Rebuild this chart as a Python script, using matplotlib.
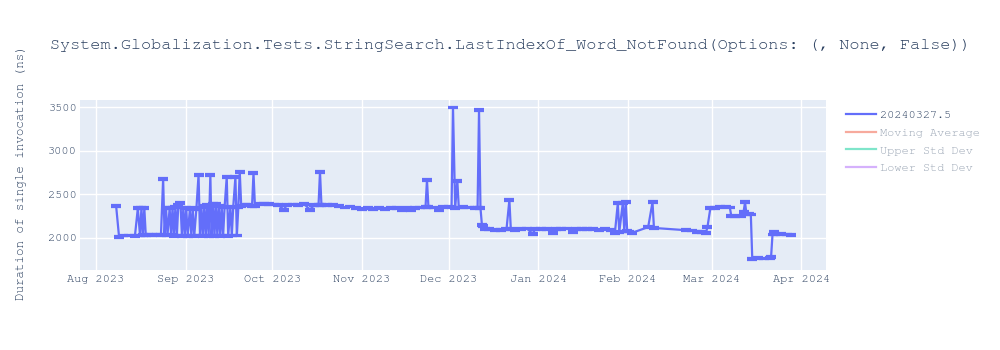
import matplotlib
matplotlib.use("Agg")
import matplotlib.pyplot as plt
import matplotlib.dates as mdates
from matplotlib.lines import Line2D
import pandas as pd

title = "System.Globalization.Tests.StringSearch.LastIndexOf_Word_NotFound(Options: (, None, False))"
y_label = "Duration of single invocation (ns)"
series_name = "20240327.5"
hidden_names = ["Moving Average", "Upper Std Dev", "Lower Std Dev"]
hidden_colors = ["#f7aa9d", "#7fe5ca", "#d5b1fc"]

dates = [
    "2023-08-08 00:00", "2023-08-09 00:00", "2023-08-10 12:00", "2023-08-12 12:00", "2023-08-14 12:00",
    "2023-08-15 12:00", "2023-08-16 06:00", "2023-08-16 18:00", "2023-08-17 06:00", "2023-08-17 18:00",
    "2023-08-18 06:00", "2023-08-19 00:00", "2023-08-20 12:00", "2023-08-22 00:00", "2023-08-23 12:00",
    "2023-08-24 06:00", "2023-08-24 18:00", "2023-08-25 06:00", "2023-08-25 18:00", "2023-08-26 12:00",
    "2023-08-27 00:00", "2023-08-27 12:00", "2023-08-28 00:00", "2023-08-28 12:00", "2023-08-29 00:00",
    "2023-08-29 12:00", "2023-08-30 06:00", "2023-08-30 18:00", "2023-08-31 06:00", "2023-08-31 18:00",
    "2023-09-01 06:00", "2023-09-01 18:00", "2023-09-02 12:00", "2023-09-03 00:00", "2023-09-03 12:00",
    "2023-09-04 00:00", "2023-09-04 18:00", "2023-09-05 12:00", "2023-09-06 00:00", "2023-09-06 12:00",
    "2023-09-07 00:00", "2023-09-07 12:00", "2023-09-08 00:00", "2023-09-08 12:00", "2023-09-09 00:00",
    "2023-09-09 14:00", "2023-09-10 00:00", "2023-09-10 12:00", "2023-09-11 00:00", "2023-09-11 12:00",
    "2023-09-12 00:00", "2023-09-12 12:00", "2023-09-13 00:00", "2023-09-13 12:00", "2023-09-14 00:00",
    "2023-09-14 12:00", "2023-09-15 06:00", "2023-09-15 18:00", "2023-09-16 12:00", "2023-09-17 00:00",
    "2023-09-17 12:00", "2023-09-18 06:00", "2023-09-18 18:00", "2023-09-19 06:00", "2023-09-19 18:00",
    "2023-09-20 06:00", "2023-09-21 12:00", "2023-09-22 12:00", "2023-09-24 00:00", "2023-09-24 12:00",
    "2023-09-25 00:00", "2023-09-26 12:00", "2023-09-28 00:00", "2023-09-30 00:00", "2023-10-01 12:00",
    "2023-10-03 00:00", "2023-10-05 00:00", "2023-10-06 00:00", "2023-10-08 00:00", "2023-10-10 00:00",
    "2023-10-12 00:00", "2023-10-14 00:00", "2023-10-15 12:00", "2023-10-17 00:00", "2023-10-17 12:00",
    "2023-10-18 00:00", "2023-10-20 00:00", "2023-10-22 00:00", "2023-10-24 00:00", "2023-10-26 00:00",
    "2023-10-28 00:00", "2023-10-30 00:00", "2023-11-01 00:00", "2023-11-03 00:00", "2023-11-05 00:00",
    "2023-11-07 00:00", "2023-11-09 00:00", "2023-11-11 00:00", "2023-11-13 00:00", "2023-11-15 00:00",
    "2023-11-16 12:00", "2023-11-18 00:00", "2023-11-19 12:00", "2023-11-21 00:00", "2023-11-23 00:00",
    "2023-11-23 12:00", "2023-11-24 00:00", "2023-11-26 00:00", "2023-11-27 12:00", "2023-11-29 00:00",
    "2023-12-01 00:00", "2023-12-02 00:00", "2023-12-02 12:00", "2023-12-03 06:00", "2023-12-04 00:00",
    "2023-12-04 12:00", "2023-12-06 00:00", "2023-12-08 00:00", "2023-12-10 00:00", "2023-12-11 00:00",
    "2023-12-11 12:00", "2023-12-12 00:00", "2023-12-12 12:00", "2023-12-13 00:00", "2023-12-13 12:00",
    "2023-12-15 00:00", "2023-12-17 00:00", "2023-12-19 00:00", "2023-12-21 00:00", "2023-12-22 00:00",
    "2023-12-22 12:00", "2023-12-24 00:00", "2023-12-26 00:00", "2023-12-28 00:00", "2023-12-30 00:00",
    "2023-12-31 00:00", "2024-01-02 00:00", "2024-01-04 00:00", "2024-01-06 00:00", "2024-01-07 00:00",
    "2024-01-09 00:00", "2024-01-11 00:00", "2024-01-13 00:00", "2024-01-14 00:00", "2024-01-16 00:00",
    "2024-01-18 00:00", "2024-01-20 00:00", "2024-01-22 00:00", "2024-01-24 00:00", "2024-01-26 00:00",
    "2024-01-27 12:00", "2024-01-28 12:00", "2024-01-29 00:00", "2024-01-30 06:00", "2024-01-30 18:00",
    "2024-01-31 06:00", "2024-01-31 18:00", "2024-02-01 12:00", "2024-02-02 12:00", "2024-02-08 00:00",
    "2024-02-09 12:00", "2024-02-10 00:00", "2024-02-21 00:00", "2024-02-23 00:00", "2024-02-25 00:00",
    "2024-02-26 12:00", "2024-02-28 00:00", "2024-02-28 12:00", "2024-02-29 12:00", "2024-03-02 00:00",
    "2024-03-04 00:00", "2024-03-06 00:00", "2024-03-07 06:00", "2024-03-07 18:00", "2024-03-09 00:00",
    "2024-03-11 00:00", "2024-03-12 00:00", "2024-03-12 12:00", "2024-03-13 00:00", "2024-03-14 00:00",
    "2024-03-14 12:00", "2024-03-15 00:00", "2024-03-17 00:00", "2024-03-19 00:00", "2024-03-21 00:00",
    "2024-03-21 12:00", "2024-03-22 00:00", "2024-03-22 12:00", "2024-03-23 00:00", "2024-03-25 00:00",
    "2024-03-27 00:00", "2024-03-28 12:00",
]

durations = [
    2365, 2015, 2030, 2030, 2025,
    2340, 2030, 2345, 2035, 2340,
    2030, 2040, 2035, 2040, 2035,
    2680, 2040, 2345, 2030, 2340,
    2040, 2350, 2025, 2360, 2030,
    2380, 2400, 2025, 2350, 2030,
    2340, 2025, 2330, 2030, 2340,
    2020, 2335, 2725, 2030, 2350,
    2025, 2370, 2030, 2380, 2025,
    2720, 2030, 2390, 2020, 2390,
    2030, 2370, 2025, 2360, 2030,
    2350, 2700, 2020, 2350, 2030,
    2360, 2700, 2030, 2350, 2760,
    2370, 2380, 2375, 2365, 2745,
    2370, 2395, 2390, 2390, 2385,
    2380, 2325, 2375, 2385, 2380,
    2390, 2325, 2375, 2380, 2760,
    2380, 2375, 2380, 2370, 2350,
    2360, 2340, 2335, 2345, 2330,
    2340, 2335, 2345, 2340, 2320,
    2350, 2320, 2345, 2350, 2355,
    2665, 2355, 2350, 2325, 2355,
    2360, 2350, 3495, 2345, 2655,
    2350, 2355, 2350, 2345, 2350,
    3465, 2345, 2150, 2140, 2105,
    2100, 2095, 2095, 2100, 2435,
    2100, 2095, 2100, 2110, 2050,
    2100, 2105, 2100, 2060, 2105,
    2100, 2110, 2065, 2105, 2100,
    2105, 2100, 2095, 2100, 2095,
    2060, 2400, 2070, 2405, 2075,
    2410, 2080, 2075, 2060, 2125,
    2410, 2115, 2090, 2085, 2070,
    2065, 2060, 2125, 2340, 2345,
    2355, 2360, 2350, 2250, 2245,
    2250, 2300, 2410, 2270, 2280,
    2270, 1760, 1770, 1765, 1775,
    1780, 2040, 2075, 2045, 2045,
    2040, 2035,
]

spread_ns = 10

x = pd.to_datetime(dates)

plt.rcParams['font.family'] = ['FreeMono', 'DejaVu Sans Mono']
text_color = "#2a3f5f"
line_color = "#636efa"

fig = plt.figure(figsize=(10, 3.5), dpi=100)
ax = fig.add_axes([0.08, 0.229, 0.746, 0.485])
ax.set_facecolor("#e5ecf6")

ax.errorbar(x, durations, yerr=spread_ns, color=line_color, linewidth=1.6,
            elinewidth=1.6, capsize=3.5, capthick=1.6, zorder=3)

ax.set_ylim(1635, 3580)
ax.set_xlim(pd.Timestamp("2023-07-26 12:00"), pd.Timestamp("2024-04-09 12:00"))
ax.set_yticks([2000, 2500, 3000, 3500])
ax.xaxis.set_major_locator(mdates.MonthLocator())
ax.xaxis.set_major_formatter(mdates.DateFormatter("%b %Y"))
ax.grid(True, color="white", linewidth=1)
ax.set_axisbelow(True)
for s in ax.spines.values():
    s.set_visible(False)
ax.tick_params(length=0, labelsize=8.6, colors=text_color)
ax.tick_params(axis="y", pad=2)
ax.tick_params(axis="x", pad=4)

fig.text(0.05, 0.87, title, fontsize=12.2, color=text_color, ha="left", va="center")
fig.text(0.022, 0.508, y_label, fontsize=9, color=text_color, rotation=90,
         ha="center", va="center")

handles = [Line2D([], [], color=line_color, linewidth=1.6)]
handles += [Line2D([], [], color=c, linewidth=1.6) for c in hidden_colors]
labels = [series_name] + hidden_names
leg = fig.legend(handles, labels, loc="upper left", bbox_to_anchor=(0.841, 0.70),
                 frameon=False, fontsize=8.6, handlelength=2.5, handletextpad=0.4,
                 labelspacing=0.62, borderaxespad=0)
for i, t in enumerate(leg.get_texts()):
    t.set_color(text_color if i == 0 else "#9aa5b4")

fig.savefig("out.png", dpi=100)
